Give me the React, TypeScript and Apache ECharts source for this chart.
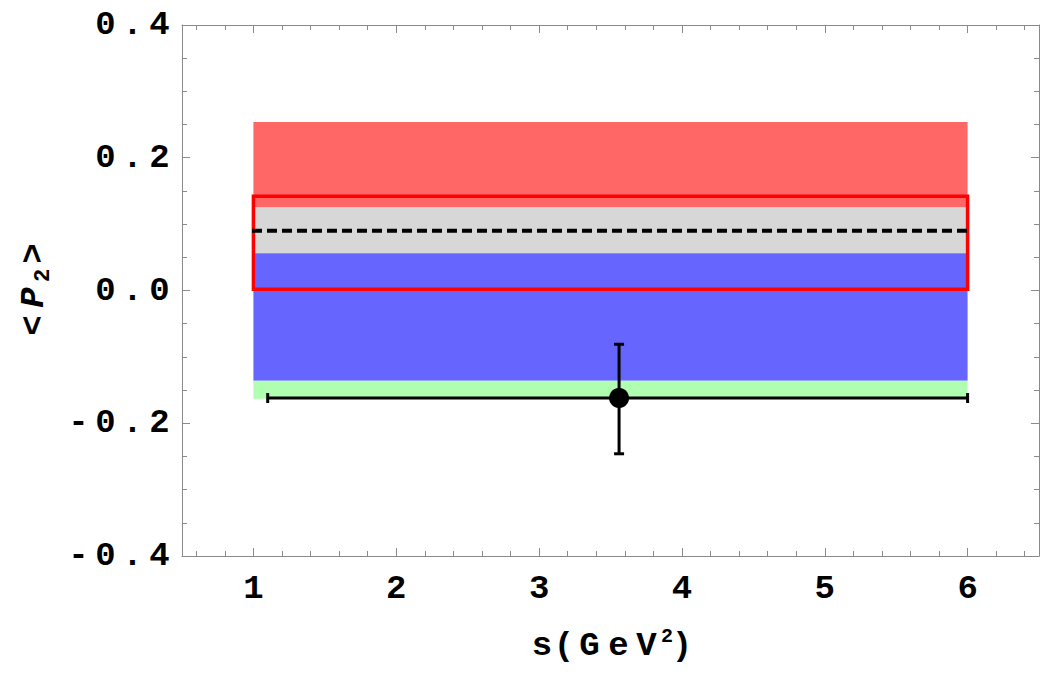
import React, { useEffect, useRef } from "react";
import * as echarts from "echarts";

// ---- data ----
const xMajorTicks = [1, 2, 3, 4, 5, 6];
const xMinorTicks = [0.6, 0.8, 1.2, 1.4, 1.6, 1.8, 2.2, 2.4, 2.6, 2.8, 3.2, 3.4, 3.6, 3.8, 4.2, 4.4, 4.6, 4.8, 5.2, 5.4, 5.6, 5.8, 6.2, 6.4];
const yTickLabels = ["-0.4", "-0.2", "0.0", "0.2", "0.4"];

const bandX = [1, 6];
const bandNames = ["red", "gray", "blue", "green"];
const bandLow = [0.125, 0.056, -0.136, -0.163];
const bandHigh = [0.254, 0.125, 0.056, -0.136];

const boxX = [1, 6];
const boxY = [0.002, 0.142];

const dashedX = [0.99, 6.0];
const dashedY = 0.09;

const pointX = 3.56;
const pointY = -0.162;
const pointYErr = [-0.246, -0.081];
const pointXErr = [1.1, 6.0];

// ---- styles ----
const bandColors = ["#FF6666", "#D7D7D7", "#6666FF", "#B0FFB0"];
const FONT = '"Courier New", "Liberation Mono", monospace';
const AXIS_GRAY = "#8a8a8a";

const spaced = (s: string) => s.split("").map((c) => `{c|${c}}`).join("");

export default function App() {
  const ref = useRef<HTMLDivElement>(null);
  useEffect(() => {
    if (!ref.current) return;
    const chart = echarts.init(ref.current, undefined, { renderer: "svg" });

    const charRich = {
      c: { fontFamily: FONT, fontWeight: "bold", fontSize: 34, color: "#000", width: 27, align: "center" },
    };

    const baseX = {
      type: "value",
      min: 0.5,
      max: 6.5,
      gridIndex: 0,
      splitLine: { show: false },
    };
    const baseY = {
      type: "value",
      min: -0.4,
      max: 0.4,
      interval: 0.2,
      splitLine: { show: false },
    };

    const bandSeries = bandNames.map((name, i) => ({
      type: "custom",
      name,
      xAxisIndex: 0,
      yAxisIndex: 0,
      z: 2,
      silent: true,
      data: [[bandX[0], bandX[1], bandLow[i], bandHigh[i]]],
      renderItem: (params: any, api: any) => {
        const p0 = api.coord([api.value(0), api.value(3)]);
        const p1 = api.coord([api.value(1), api.value(2)]);
        return {
          type: "rect",
          shape: { x: p0[0], y: p0[1], width: p1[0] - p0[0], height: p1[1] - p0[1] },
          style: { fill: bandColors[i] },
        };
      },
    }));

    const option: any = {
      animation: false,
      backgroundColor: "#fff",
      grid: { left: 181, right: 3, top: 25, bottom: 126, containLabel: false },
      xAxis: [
        {
          ...baseX,
          position: "bottom",
          axisLine: { show: true, onZero: false, lineStyle: { color: AXIS_GRAY, width: 1 } },
          axisTick: { show: true, inside: true, length: 8, customValues: xMajorTicks, lineStyle: { color: AXIS_GRAY } },
          axisLabel: {
            show: true,
            customValues: xMajorTicks,
            margin: 16,
            formatter: (v: number) => spaced(String(v)),
            rich: charRich,
          },
          name: "{t|s}{p|(}{G|G}{e|e}{V|V}{sup|2}{q|)}",
          nameLocation: "middle",
          nameGap: 70,
          nameTextStyle: {
            fontFamily: FONT,
            fontWeight: "bold",
            fontSize: 34,
            color: "#000",
            rich: {
              t: { fontFamily: FONT, fontWeight: "bold", fontSize: 34, width: 22, align: "center", lineHeight: 40 },
              p: { fontFamily: FONT, fontWeight: "bold", fontSize: 34, width: 22, align: "center", lineHeight: 40 },
              G: { fontFamily: FONT, fontWeight: "bold", fontSize: 34, width: 29, align: "center", lineHeight: 40 },
              e: { fontFamily: FONT, fontWeight: "bold", fontSize: 34, width: 29, align: "center", lineHeight: 40 },
              V: { fontFamily: FONT, fontWeight: "bold", fontSize: 34, width: 27, align: "center", lineHeight: 40 },
              sup: { fontFamily: FONT, fontWeight: "bold", fontSize: 20, width: 14, align: "center", verticalAlign: "top", lineHeight: 40, padding: [0, 0, 14, 0] },
              q: { fontFamily: FONT, fontWeight: "bold", fontSize: 34, width: 16, align: "center", lineHeight: 40 },
            },
          },
        },
        {
          ...baseX,
          position: "bottom",
          axisLine: { show: false, onZero: false },
          axisTick: { show: true, inside: true, length: 5, customValues: xMinorTicks, lineStyle: { color: AXIS_GRAY } },
          axisLabel: { show: false },
        },
        {
          ...baseX,
          position: "top",
          axisLine: { show: true, onZero: false, lineStyle: { color: AXIS_GRAY, width: 1 } },
          axisTick: { show: true, inside: true, length: 8, customValues: xMajorTicks, lineStyle: { color: AXIS_GRAY } },
          axisLabel: { show: false },
        },
        {
          ...baseX,
          position: "top",
          axisLine: { show: false, onZero: false },
          axisTick: { show: true, inside: true, length: 5, customValues: xMinorTicks, lineStyle: { color: AXIS_GRAY } },
          axisLabel: { show: false },
        },
      ],
      yAxis: [
        {
          ...baseY,
          position: "left",
          axisLine: { show: true, onZero: false, lineStyle: { color: AXIS_GRAY, width: 1 } },
          axisTick: { show: true, inside: true, length: 8, lineStyle: { color: AXIS_GRAY } },
          minorTick: { show: true, splitNumber: 4, length: 5, lineStyle: { color: AXIS_GRAY } },
          axisLabel: {
            show: true,
            margin: 9,
            formatter: (v: number) => {
              const idx = Math.round((v + 0.4) / 0.2);
              return spaced(yTickLabels[idx] ?? v.toFixed(1));
            },
            rich: charRich,
          },
          name: "{a|<}{P|P}{s|2}{b|>}",
          nameLocation: "middle",
          nameRotate: 90,
          nameGap: 128,
          nameTextStyle: {
            fontFamily: FONT,
            fontWeight: "bold",
            fontSize: 34,
            color: "#000",
            rich: {
              a: { fontFamily: FONT, fontWeight: "bold", fontSize: 34, width: 30, align: "center", lineHeight: 40, verticalAlign: "middle" },
              P: { fontFamily: FONT, fontWeight: "bold", fontStyle: "italic", fontSize: 34, width: 26, align: "center", lineHeight: 40, verticalAlign: "middle" },
              s: { fontFamily: FONT, fontWeight: "bold", fontSize: 22, width: 18, align: "center", verticalAlign: "bottom", lineHeight: 22, padding: [24, 0, 0, 0] },
              b: { fontFamily: FONT, fontWeight: "bold", fontSize: 34, width: 26, align: "center", lineHeight: 40, verticalAlign: "middle" },
            },
          },
        },
        {
          ...baseY,
          position: "right",
          axisLine: { show: true, onZero: false, lineStyle: { color: AXIS_GRAY, width: 1 } },
          axisTick: { show: true, inside: true, length: 8, lineStyle: { color: AXIS_GRAY } },
          minorTick: { show: true, splitNumber: 4, length: 5, lineStyle: { color: AXIS_GRAY } },
          axisLabel: { show: false },
        },
      ],
      series: [
        ...bandSeries,
        {
          type: "custom",
          name: "box",
          xAxisIndex: 0,
          yAxisIndex: 0,
          z: 3,
          silent: true,
          data: [[boxX[0], boxX[1], boxY[0], boxY[1]]],
          renderItem: (params: any, api: any) => {
            const p0 = api.coord([api.value(0), api.value(3)]);
            const p1 = api.coord([api.value(1), api.value(2)]);
            return {
              type: "rect",
              shape: { x: p0[0], y: p0[1], width: p1[0] - p0[0], height: p1[1] - p0[1] },
              style: { fill: "none", stroke: "#FF0000", lineWidth: 3.5 },
            };
          },
        },
        {
          type: "line",
          name: "central",
          xAxisIndex: 0,
          yAxisIndex: 0,
          z: 4,
          symbol: "none",
          silent: true,
          data: [[dashedX[0], dashedY], [dashedX[1], dashedY]],
          lineStyle: { color: "#000", width: 4, type: [10, 5] },
        },
        {
          type: "custom",
          name: "errors",
          xAxisIndex: 0,
          yAxisIndex: 0,
          z: 5,
          silent: true,
          data: [[pointX, pointY, pointYErr[0], pointYErr[1], pointXErr[0], pointXErr[1]]],
          renderItem: (params: any, api: any) => {
            const c = api.coord([api.value(0), api.value(1)]);
            const yl = api.coord([api.value(0), api.value(2)]);
            const yh = api.coord([api.value(0), api.value(3)]);
            const xl = api.coord([api.value(4), api.value(1)]);
            const xh = api.coord([api.value(5), api.value(1)]);
            const st = { stroke: "#000", lineWidth: 3 };
            const cap = 5;
            return {
              type: "group",
              children: [
                { type: "line", shape: { x1: c[0], y1: yl[1], x2: c[0], y2: yh[1] }, style: st },
                { type: "line", shape: { x1: c[0] - cap, y1: yl[1], x2: c[0] + cap, y2: yl[1] }, style: st },
                { type: "line", shape: { x1: c[0] - cap, y1: yh[1], x2: c[0] + cap, y2: yh[1] }, style: st },
                { type: "line", shape: { x1: xl[0], y1: c[1], x2: xh[0], y2: c[1] }, style: st },
                { type: "line", shape: { x1: xl[0], y1: c[1] - cap, x2: xl[0], y2: c[1] + cap }, style: st },
                { type: "line", shape: { x1: xh[0], y1: c[1] - cap, x2: xh[0], y2: c[1] + cap }, style: st },
              ],
            };
          },
        },
        {
          type: "scatter",
          name: "measurement",
          xAxisIndex: 0,
          yAxisIndex: 0,
          z: 6,
          symbol: "circle",
          symbolSize: 20,
          itemStyle: { color: "#000", opacity: 1 },
          data: [[pointX, pointY]],
        },
      ],
    };
    chart.setOption(option);
    return () => chart.dispose();
  }, []);
  return (
    <div
      ref={ref}
      style={{ position: "fixed", left: 0, top: 0, width: 1042, height: 682, background: "#fff" }}
    />
  );
}
